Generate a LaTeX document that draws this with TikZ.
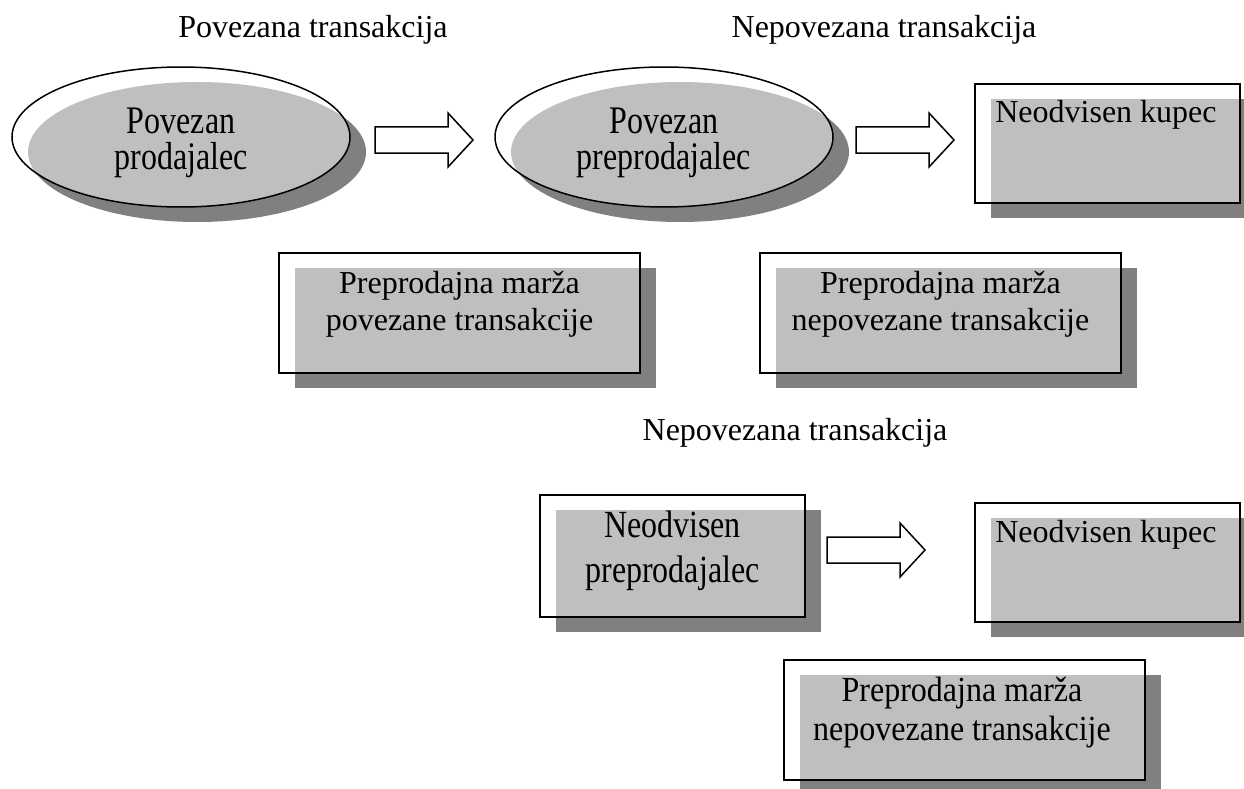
\documentclass[tikz,border=0pt]{standalone}
\usepackage{fontspec}
\usepackage{graphicx}
\setmainfont{Liberation Serif}
\usetikzlibrary{shapes.geometric,shadows}
\definecolor{shadowgrey}{HTML}{808080}
% centred lines (separated by \cr), stretched vertically by #1, baselines #2 apart before stretching
\newcommand\stretchlines[3]{%
  \scalebox{1}[#1]{\vtop{\baselineskip=#2\lineskiplimit=-100pt\lineskip=0pt
    \halign{\hfil##\hfil\cr#3\crcr}}}}
\tikzset{
  x=1pt, y=-1pt,
  txt/.style={font=\fontsize{32}{37}\selectfont, inner sep=0pt, anchor=base},
  base shape/.style={draw=black, line width=1.8pt, fill=white, fill opacity=0.5,
    text opacity=1, inner sep=0pt,
    drop shadow={shadow xshift=16pt, shadow yshift=-15pt, fill=shadowgrey,
      opacity=1, draw=none}},
  oval/.style={base shape, ellipse, line width=1.5pt, minimum width=338pt, minimum height=140pt},
  card/.style 2 args={base shape, rectangle, minimum width=#1, minimum height=#2},
  blockarrow/.style={draw=black, line width=1.5pt, fill=white, line join=miter}
}
\begin{document}
\begin{tikzpicture}
\useasboundingbox (0,0) rectangle (1244,789);
\clip (0,0) rectangle (1244,789);

% headings
\node[txt] (h1) at (313,38) {Povezana transakcija};
\node[txt] (h2) at (884,38) {Nepovezana transakcija};
\node[txt] (h3) at (795,440) {Nepovezana transakcija};

% related parties
\node[oval] (seller) at (181,137) {};
\node[oval] (reseller) at (664,137) {};
\node[txt] (sellerT) at (181,133) {\stretchlines{1.22}{30.3pt}{Povezan\cr prodajalec}};
\node[txt] (resellerT) at (664,133) {\stretchlines{1.22}{30.3pt}{Povezan\cr preprodajalec}};

% buyers and margins
\node[card={265pt}{119pt}] (buyer1) at (1107.5,143.5) {};
\node[txt] (buyer1T) at (1106,123) {Neodvisen kupec};

\node[card={361pt}{120pt}] (margin1) at (459.5,313) {};
\node[txt] (margin1T) at (459.5,293) {\stretchlines{1}{37pt}{Preprodajna marža\cr povezane transakcije}};

\node[card={361pt}{120pt}] (margin2) at (940.5,313) {};
\node[txt] (margin2T) at (940.5,293) {\stretchlines{1}{37pt}{Preprodajna marža\cr nepovezane transakcije}};

\node[card={265pt}{122pt}] (indep) at (672.5,556) {};
\node[txt] (indepT) at (672.5,537) {\stretchlines{1.2}{37.5pt}{Neodvisen\cr preprodajalec}};

\node[card={265pt}{119pt}] (buyer2) at (1107.5,562.5) {};
\node[txt] (buyer2T) at (1106,542) {Neodvisen kupec};

\node[card={361pt}{120pt}] (margin3) at (964.5,720) {};
\node[txt] (margin3T) at (962,701) {\stretchlines{1.1}{35.5pt}{Preprodajna marža\cr nepovezane transakcije}};

% block arrows
\coordinate (arr1) at (375,140);
\coordinate (arr2) at (856,140);
\coordinate (arr3) at (827,550);
\foreach \a in {arr1,arr2,arr3}
  \draw[blockarrow] (\a) ++(0,-13) -- ++(73,0) -- ++(0,-14) -- ++(25,27)
    -- ++(-25,27) -- ++(0,-14) -- ++(-73,0) -- cycle;
\end{tikzpicture}
\end{document}
